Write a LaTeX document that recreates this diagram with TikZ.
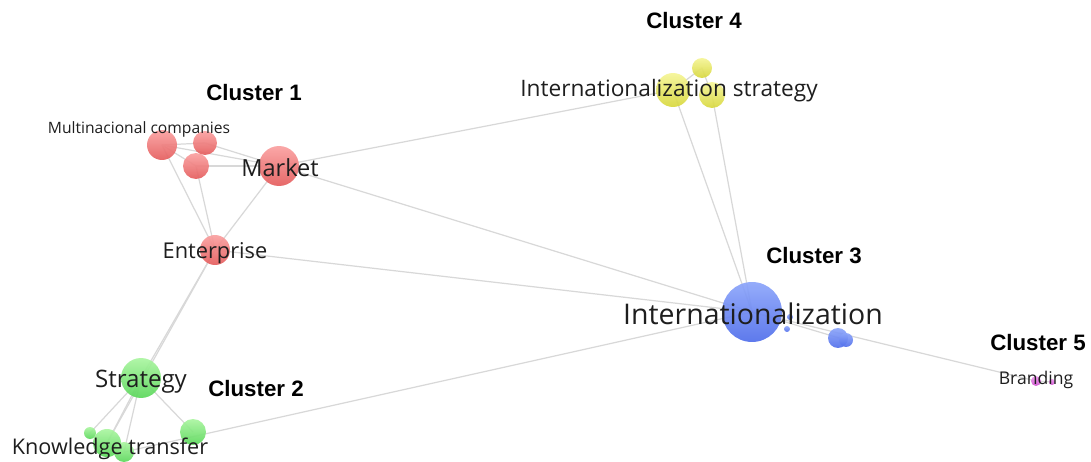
\documentclass[tikz,border=0pt]{standalone}
\usepackage{fontspec}
\setmainfont{Open Sans}
\newfontfamily\clusterfont{Liberation Sans}
\usetikzlibrary{backgrounds}
\definecolor{redtop}{RGB}{250,160,160}
\definecolor{redbot}{RGB}{228,92,92}
\definecolor{greentop}{RGB}{170,245,160}
\definecolor{greenbot}{RGB}{90,215,90}
\definecolor{bluetop}{RGB}{140,165,250}
\definecolor{bluebot}{RGB}{80,110,235}
\definecolor{yellowtop}{RGB}{245,245,150}
\definecolor{yellowbot}{RGB}{215,215,60}
\definecolor{pinktop}{RGB}{240,150,240}
\definecolor{pinkbot}{RGB}{205,80,205}
\definecolor{edgegray}{RGB}{216,216,216}
\definecolor{labeltext}{RGB}{30,30,30}
\tikzset{
  bubble/.style={circle,inner sep=0pt,minimum size=#1*0.04cm,fill opacity=0.92},
  redbub/.style={bubble=#1,top color=redtop,bottom color=redbot},
  greenbub/.style={bubble=#1,top color=greentop,bottom color=greenbot},
  bluebub/.style={bubble=#1,top color=bluetop,bottom color=bluebot},
  yellowbub/.style={bubble=#1,top color=yellowtop,bottom color=yellowbot},
  pinkbub/.style={bubble=#1,top color=pinktop,bottom color=pinkbot},
  edge/.style={edgegray,line width=0.7pt},
  term/.style={inner sep=0pt,text=labeltext},
  cluster/.style={inner sep=0pt,font=\clusterfont\bfseries\fontsize{12.7}{14}\selectfont}
}
\begin{document}
\begin{tikzpicture}[x=0.02cm,y=-0.02cm]
  \useasboundingbox (0,0) rectangle (1091,462);
  % cluster 1
  \node [redbub=15] (mcA) at (162,145) {};
  \node [redbub=12] (mcB) at (205,143) {};
  \node [redbub=13] (mcC) at (196,166) {};
  \node [redbub=20] (market) at (279,166) {};
  \node [redbub=15] (enterprise) at (215,250) {};
  % cluster 2
  \node [greenbub=20] (strategy) at (141,378) {};
  \node [greenbub=6] (ktA) at (90,433) {};
  \node [greenbub=14] (ktB) at (107,443) {};
  \node [greenbub=10] (ktC) at (124,452) {};
  \node [greenbub=13] (ktD) at (193,432) {};
  % cluster 3
  \node [bluebub=30] (intl) at (752,312) {};
  \node [bluebub=3] (intlA) at (787,329) {};
  \node [bluebub=3] (intlB) at (790,317) {};
  \node [bluebub=10] (intlC) at (838,338) {};
  \node [bluebub=7] (intlD) at (846,340) {};
  % cluster 4
  \node [yellowbub=17] (isA) at (673,90) {};
  \node [yellowbub=10] (isB) at (702,68) {};
  \node [yellowbub=13] (isC) at (712,95) {};
  % cluster 5
  \node [pinkbub=5] (brA) at (1036,381) {};
  \node [pinkbub=3] (brB) at (1052,382) {};
  \begin{scope}[on background layer]
    \draw [edge] (mcA.center) -- (mcB.center);
    \draw [edge] (mcA.center) -- (mcC.center);
    \draw [edge] (mcA.center) -- (market.center);
    \draw [edge] (mcB.center) -- (market.center);
    \draw [edge] (mcC.center) -- (market.center);
    \draw [edge] (mcA.center) -- (enterprise.center);
    \draw [edge] (mcC.center) -- (enterprise.center);
    \draw [edge] (market.center) -- (enterprise.center);
    \draw [edge] (market.center) -- (isA.center);
    \draw [edge] (market.center) -- (intl.center);
    \draw [edge] (enterprise.center) -- (intl.center);
    \draw [edge] (enterprise.center) -- (strategy.center);
    \draw [edge] (enterprise.center) -- (ktB.center);
    \draw [edge] (strategy.center) -- (ktA.center);
    \draw [edge] (strategy.center) -- (ktB.center);
    \draw [edge] (strategy.center) -- (ktC.center);
    \draw [edge] (strategy.center) -- (ktD.center);
    \draw [edge] (ktC.center) -- (intl.center);
    \draw [edge] (isA.center) -- (isB.center);
    \draw [edge] (isB.center) -- (isC.center);
    \draw [edge] (isA.center) -- (intl.center);
    \draw [edge] (isC.center) -- (intl.center);
    \draw [edge] (intl.center) -- (intlD.center);
    \draw [edge] (intl.center) -- (brA.center);
    \draw [edge] (brA.center) -- (brB.center);
  \end{scope}
  % labels
  \node [term,font=\fontsize{8.9}{10}\selectfont] (mcLabel) at (139,129) {Multinacional companies};
  \node [term,font=\fontsize{13.4}{15}\selectfont] (marketLabel) at (280,168) {Market};
  \node [term,font=\fontsize{12.4}{14}\selectfont] (enterpriseLabel) at (215,253) {Enterprise};
  \node [term,font=\fontsize{13.7}{15}\selectfont] (strategyLabel) at (141,382) {Strategy};
  \node [term,font=\fontsize{12.3}{14}\selectfont] (ktLabel) at (110,449) {Knowledge transfer};
  \node [term,font=\fontsize{16.2}{18}\selectfont] (intlLabel) at (753,314) {Internationalization};
  \node [term,font=\fontsize{12.9}{14}\selectfont] (isLabel) at (669,91) {Internationalization strategy};
  \node [term,font=\fontsize{10}{12}\selectfont] (brLabel) at (1036,380) {Branding};
  \node [cluster] (cl1) at (254,93) {Cluster 1};
  \node [cluster] (cl2) at (256,389) {Cluster 2};
  \node [cluster] (cl3) at (814,256) {Cluster 3};
  \node [cluster] (cl4) at (694,21) {Cluster 4};
  \node [cluster] (cl5) at (1038,343) {Cluster 5};
\end{tikzpicture}
\end{document}
